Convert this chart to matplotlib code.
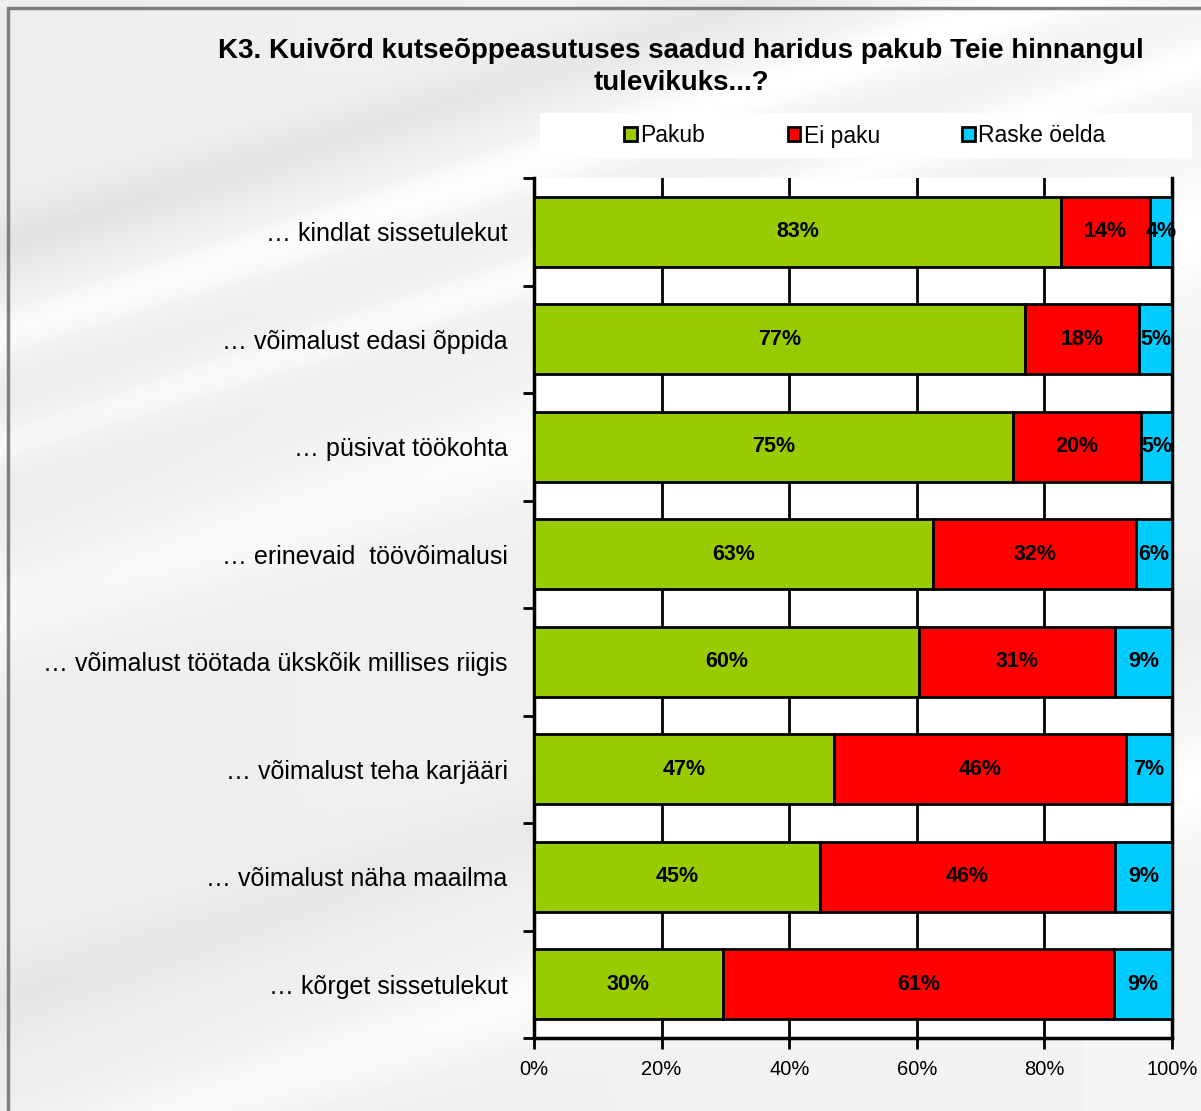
import numpy as np
import matplotlib
matplotlib.use("Agg")
import matplotlib.pyplot as plt
from matplotlib.patches import Rectangle
from matplotlib.ticker import FixedLocator, PercentFormatter

plt.rcParams['font.family'] = ['Liberation Sans', 'DejaVu Sans']

categories = [
    "… kindlat sissetulekut",
    "… võimalust edasi õppida",
    "… püsivat töökohta",
    "… erinevaid  töövõimalusi",
    "… võimalust töötada ükskõik millises riigis",
    "… võimalust teha karjääri",
    "… võimalust näha maailma",
    "… kõrget sissetulekut",
]
series_names = ["Pakub", "Ei paku", "Raske öelda"]
pakub = [82.6, 77.0, 75.0, 62.6, 60.3, 47.0, 44.8, 29.6]
ei_paku = [13.9, 17.9, 20.2, 31.8, 30.8, 45.8, 46.2, 61.3]
raske = [3.5, 5.1, 4.8, 5.6, 8.9, 7.2, 9.0, 9.1]
labels_pakub = ["83%", "77%", "75%", "63%", "60%", "47%", "45%", "30%"]
labels_ei = ["14%", "18%", "20%", "32%", "31%", "46%", "46%", "61%"]
labels_raske = ["4%", "5%", "5%", "6%", "9%", "7%", "9%", "9%"]
xticks = [0, 20, 40, 60, 80, 100]
title = "K3. Kuivõrd kutseõppeasutuses saadud haridus pakub Teie hinnangul\ntulevikuks...?"

colors = ["#99CC00", "#FF0000", "#00CCFF"]

W, H = 1201, 1111
fig = plt.figure(figsize=(W / 100, H / 100), dpi=100)

# background texture
bg = fig.add_axes([0, 0, 1, 1], zorder=-10)
yy, xx = np.mgrid[0:H, 0:W]
u = (yy + 0.32 * xx) / H
img = 0.93 + 0.03 * (xx / W)
img = img + 0.05 * np.exp(-((u - 0.30) / 0.025) ** 2) + 0.04 * np.exp(-((u - 0.40) / 0.02) ** 2)
img = img + 0.04 * np.exp(-((u - 0.55) / 0.05) ** 2) + 0.04 * np.exp(-((u - 1.05) / 0.04) ** 2)
img = img - 0.04 * np.exp(-((u - 0.22) / 0.03) ** 2) - 0.03 * np.exp(-((u - 0.9) / 0.04) ** 2)
img = np.clip(img, 0, 1)
bg.imshow(img, cmap="gray", vmin=0, vmax=1, extent=[0, 1, 0, 1], aspect="auto", origin="upper")
bg.set_axis_off()

# outer frame
fig.patches.append(Rectangle((8 / W, -0.1), 1.2, (H - 8) / H + 0.1, transform=fig.transFigure,
                             fill=False, edgecolor="#808080", linewidth=2.5, zorder=-5))
# legend background box
fig.patches.append(Rectangle((540 / W, 1 - 158 / H), (1192 - 540) / W, 45 / H,
                             transform=fig.transFigure, facecolor="white", edgecolor="none",
                             zorder=-4))

ax = fig.add_axes([534 / W, 73 / H, (1172 - 534) / W, (1038 - 178) / H])
ax.set_facecolor("white")

y = np.arange(len(categories))
tot = np.array(pakub) + np.array(ei_paku) + np.array(raske)
vals = [np.array(pakub) / tot * 100, np.array(ei_paku) / tot * 100, np.array(raske) / tot * 100]
labs = [labels_pakub, labels_ei, labels_raske]
left = np.zeros(len(categories))
for i, (v, c, name) in enumerate(zip(vals, colors, series_names)):
    bars = ax.barh(y, v, left=left, height=0.65, color=c, edgecolor="black", linewidth=2,
                   label=name, zorder=3)
    for j, b in enumerate(bars):
        ax.text(left[j] + v[j] / 2, y[j], labs[i][j], ha="center", va="center",
                fontsize=15.5, fontweight="bold", color="black", zorder=4)
    left = left + v

ax.set_xlim(0, 100)
ax.set_ylim(len(categories) - 0.5, -0.5)
ax.xaxis.set_major_locator(FixedLocator(xticks))
ax.xaxis.set_major_formatter(PercentFormatter(decimals=0))
ax.grid(axis="x", color="black", linewidth=2, zorder=0)
ax.set_yticks(y)
ax.set_yticklabels(categories, fontsize=18)
ax.yaxis.set_minor_locator(FixedLocator(np.arange(-0.5, len(categories), 1)))
ax.tick_params(axis="y", which="major", length=0, pad=19)
ax.tick_params(axis="y", which="minor", length=8, width=2, direction="out")
ax.tick_params(axis="x", which="major", length=8, width=2, direction="out", labelsize=14.5, pad=8)
for s in ["left", "bottom", "right"]:
    ax.spines[s].set_linewidth(2.5)
ax.spines["top"].set_visible(False)

leg = fig.legend(loc="center", bbox_to_anchor=(865 / W, 1 - 136 / H), ncol=3, frameon=False,
                 fontsize=16.5, handlelength=0.55, handleheight=0.55, handletextpad=0.15,
                 columnspacing=3.6, borderpad=0.55)
for h in leg.legend_handles:
    h.set_linewidth(2)

fig.text(681 / W, 1 - 67 / H, title, ha="center", va="center", fontsize=20,
         fontweight="bold", linespacing=1.32)

fig.savefig("out.png", dpi=100)
